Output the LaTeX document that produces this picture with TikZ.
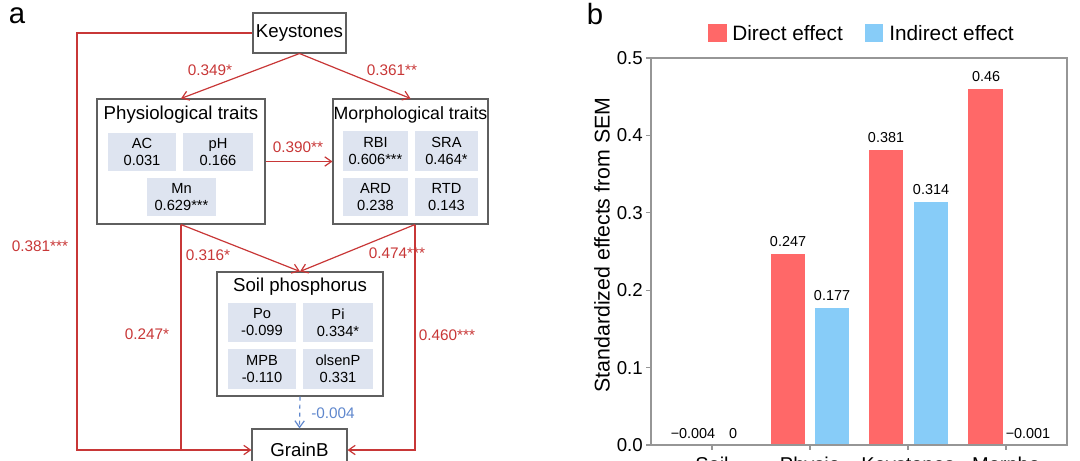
\documentclass[tikz,border=0pt]{standalone}
\usepackage{fontspec}
\setmainfont{Liberation Sans}
\usetikzlibrary{arrows.meta,calc}
\definecolor{lred}{RGB}{200,55,55}
\definecolor{lblue}{RGB}{95,135,205}
\definecolor{boxgray}{RGB}{95,95,95}
\definecolor{subfill}{RGB}{222,228,240}
\definecolor{barred}{RGB}{255,104,104}
\definecolor{barblue}{RGB}{135,204,248}
\definecolor{axgray}{RGB}{150,150,150}
\newlength\pxu
\setlength\pxu{0.75pt}
\begin{document}
\begin{tikzpicture}[x=0.75pt,y=-0.75pt,
  box/.style={draw=boxgray, line width=0.8pt, inner sep=0pt, fill=white},
  ttl/.style={font=\fontsize{14}{16}\selectfont, inner sep=0pt},
  sub/.style={fill=subfill, inner sep=0pt, align=center, font=\fontsize{11}{12.75}\selectfont},
  lab/.style={text=lred, font=\fontsize{11.5}{13}\selectfont, inner sep=0pt},
  arr/.style={draw=lred, line width=0.9pt, -{Straight Barb[length=5pt,width=7pt]}},
  ln/.style={draw=lred, line width=0.9pt},
  tick/.style={font=\fontsize{14}{16}\selectfont, inner sep=0pt},
  val/.style={font=\fontsize{10.8}{12}\selectfont, inner sep=0pt},
  panel/.style={font=\fontsize{22}{24}\selectfont, inner sep=0pt}
]
\useasboundingbox (0,0) rectangle (1080,460);

% ---------------- panel a ----------------
\node[panel] (pa) at (17,16) {a};

\node[box, ttl, minimum width=93\pxu, minimum height=40\pxu] (key) at (299.5,33) {Keystones};

\node[box, minimum width=168\pxu, minimum height=125\pxu] (phys) at (181,161.5) {};
\node[ttl] (physT) at (181,115) {Physiological traits};
\node[sub, minimum width=68\pxu, minimum height=38\pxu] (ac) at (142,152) {AC\\0.031};
\node[sub, minimum width=70\pxu, minimum height=38\pxu] (ph) at (218,152) {pH\\0.166};
\node[sub, minimum width=69\pxu, minimum height=38\pxu] (mn) at (181.5,197) {Mn\\0.629***};

\node[box, minimum width=155\pxu, minimum height=125\pxu] (morph) at (410.5,161.5) {};
\node[ttl, font=\fontsize{13.3}{16}\selectfont] (morphT) at (410.5,115) {Morphological traits};
\node[sub, minimum width=65\pxu, minimum height=40\pxu] (rbi) at (375.5,151) {RBI\\0.606***};
\node[sub, minimum width=63\pxu, minimum height=40\pxu] (sra) at (446.5,151) {SRA\\0.464*};
\node[sub, minimum width=65\pxu, minimum height=38\pxu] (ard) at (375.5,197) {ARD\\0.238};
\node[sub, minimum width=63\pxu, minimum height=38\pxu] (rtd) at (446.5,197) {RTD\\0.143};

\node[box, minimum width=166\pxu, minimum height=124\pxu] (soil) at (300,334) {};
\node[ttl] (soilT) at (300,287) {Soil phosphorus};
\node[sub, minimum width=68\pxu, minimum height=39\pxu] (po) at (262,322.5) {Po\\-0.099};
\node[sub, minimum width=70\pxu, minimum height=39\pxu] (pi) at (338,322.5) {Pi\\0.334*};
\node[sub, minimum width=68\pxu, minimum height=40\pxu] (mpb) at (262,369) {MPB\\-0.110};
\node[sub, minimum width=70\pxu, minimum height=40\pxu] (olp) at (338,369) {olsenP\\0.331};

\node[box, ttl, minimum width=95\pxu, minimum height=42\pxu] (grain) at (299.5,450) {GrainB};

\coordinate (lc) at (77,0);
\coordinate (mb) at ($(morph.south)+(4.5,0)$);

\draw[arr] (key.south) -- (phys.north);
\draw[arr] (key.south) -- (morph.north);
\draw[arr] (phys.east) -- (morph.west);
\draw[arr] (phys.south) -- (soil.north);
\draw[arr] (mb) -- (soil.north);
\draw[arr] (key.west) -| (lc |- grain.west) -- (grain.west);
\draw[ln] (phys.south) -- (phys.south |- grain.west);
\draw[arr] (mb) |- (grain.east);
\draw[draw=lblue, line width=0.9pt, dashed, -{Straight Barb[length=5pt,width=7pt]}] (soil.south) -- (grain.north);

\node[lab] (l1) at (210,70) {0.349*};
\node[lab] (l2) at (392,70) {0.361**};
\node[lab] (l3) at (298,147) {0.390**};
\node[lab] (l4) at (40,246) {0.381***};
\node[lab] (l5) at (208,255) {0.316*};
\node[lab] (l6) at (397,253) {0.474***};
\node[lab] (l7) at (147,334) {0.247*};
\node[lab] (l8) at (447,335) {0.460***};
\node[lab, text=lblue] (l9) at (333,413) {-0.004};

% ---------------- panel b ----------------
\node[panel] (pb) at (595,14) {b};

\fill[barred] (708,24) rectangle (727,42);
\node[anchor=west, font=\fontsize{15.6}{18}\selectfont, inner sep=0pt] (lg1) at (732,33) {Direct effect};
\fill[barblue] (865,24) rectangle (883,42);
\node[anchor=west, font=\fontsize{15.6}{18}\selectfont, inner sep=0pt] (lg2) at (889,33) {Indirect effect};

% bars
\fill[barred] (771,445) rectangle (805,253.8);
\fill[barblue] (815,445) rectangle (849,308);
\fill[barred] (869,445) rectangle (903,150.1);
\fill[barblue] (914,445) rectangle (948,202);
\fill[barred] (968,445) rectangle (1003,89);

\draw[axgray, line width=0.9pt] (651,58) rectangle (1067,445);
\foreach \v/\t in {0/0.0,1/0.1,2/0.2,3/0.3,4/0.4,5/0.5}{
  \draw[axgray, line width=0.9pt] (646,445-77.4*\v) -- (651,445-77.4*\v);
  \node[tick, anchor=east] at (643,445-77.4*\v) {\t};
}
\foreach \x in {712,810,908,1006}{
  \draw[axgray, line width=0.9pt] (\x,445) -- (\x,450);
}

\node[val] (v1) at (693,434) {−0.004};
\node[val] (v2) at (733,434) {0};
\node[val] (v3) at (788,242) {0.247};
\node[val] (v4) at (832,296) {0.177};
\node[val] (v5) at (886,138) {0.381};
\node[val] (v6) at (931,190) {0.314};
\node[val] (v7) at (986,77) {0.46};
\node[val] (v8) at (1028,434) {−0.001};

\node[rotate=90, font=\fontsize{16}{18}\selectfont, inner sep=0pt] (ylab) at (602,245) {Standardized effects from SEM};

\foreach \x/\t in {712/Soil,810/Physio,908/Keystones,1006/Morpho}{
  \node[anchor=base, font=\fontsize{15}{18}\selectfont, inner sep=0pt] at (\x,471) {\t};
}
\end{tikzpicture}
\end{document}
